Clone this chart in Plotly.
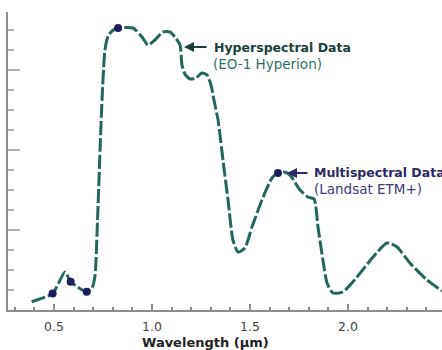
import plotly.graph_objects as go

# Reflectance curve (wavelength in micrometres, relative reflectance in minor-tick units)
wavelength = [0.386, 0.493, 0.556, 0.585, 0.667, 0.694, 0.709, 0.722, 0.735, 0.745,
              0.760, 0.776, 0.796, 0.827, 0.903, 0.949, 0.980, 1.015, 1.056, 1.092,
              1.117, 1.143, 1.153, 1.168, 1.194, 1.224, 1.255, 1.281, 1.301, 1.316,
              1.337, 1.362, 1.388, 1.413, 1.439, 1.474, 1.510, 1.561, 1.612, 1.643,
              1.673, 1.704, 1.755, 1.796, 1.827, 1.847, 1.872, 1.893, 1.923, 1.974,
              2.046, 2.128, 2.199, 2.250, 2.316, 2.403, 2.480]
reflectance = [0.41, 0.83, 1.90, 1.41, 0.91, 1.10, 1.70, 4.50, 8.00, 10.50,
               13.00, 13.70, 13.95, 14.10, 14.10, 13.65, 13.25, 13.50, 13.90, 13.90,
               13.65, 13.25, 12.25, 11.80, 11.55, 11.60, 11.85, 11.75, 11.25, 10.50,
               9.50, 7.50, 5.50, 3.50, 2.90, 3.10, 4.15, 5.50, 6.60, 6.85,
               6.90, 6.75, 6.00, 5.65, 5.55, 4.15, 2.50, 1.35, 0.85, 0.90,
               1.65, 2.65, 3.35, 3.15, 2.35, 1.50, 0.95]

# Sample points marked on the curve
band_wavelength = [0.493, 0.585, 0.667, 0.827, 1.643]
band_value = [0.83, 1.41, 0.91, 14.10, 6.85]

x_tick_values = [0.5, 1.0, 1.5, 2.0]
x_tick_labels = ["0.5", "1.0", "1.5", "2.0"]

LINE = "#24655c"
MARK = "#1d1d5a"
AXIS = "#8c8c8c"

fig = go.Figure()
fig.add_trace(go.Scatter(
    x=wavelength, y=reflectance, mode="lines",
    line=dict(color=LINE, width=3, dash="14px,3px", shape="spline", smoothing=0.6),
    hoverinfo="skip", showlegend=False))
fig.add_trace(go.Scatter(
    x=band_wavelength, y=band_value, mode="markers",
    marker=dict(color=MARK, size=8),
    hoverinfo="skip", showlegend=False))

def X(px):
    return 0.5 + (px - 54) / 196.0

def Y(py):
    return (310 - py) / 20.0

font = "DejaVu Sans"
ann = [
    dict(x=X(212), y=Y(47), text="<b>Hyperspectral Data</b>", xanchor="left", yanchor="middle",
         showarrow=False, font=dict(family=font, size=12.5, color="#1b403c")),
    dict(x=X(211), y=Y(64), text="(EO-1 Hyperion)", xanchor="left", yanchor="middle",
         showarrow=False, font=dict(family=font, size=13.5, color="#2f6f68")),
    dict(x=X(184), y=Y(47), ax=X(208), ay=Y(47), axref="x", ayref="y", text="",
         showarrow=True, arrowhead=2, arrowsize=1, arrowwidth=2, arrowcolor="#1b403c"),
    dict(x=X(312), y=Y(172), text="<b>Multispectral Data</b>", xanchor="left", yanchor="middle",
         showarrow=False, font=dict(family=font, size=12.5, color="#2b2963")),
    dict(x=X(312), y=Y(189), text="(Landsat ETM+)", xanchor="left", yanchor="middle",
         showarrow=False, font=dict(family=font, size=13.5, color="#3b3a7c")),
    dict(x=X(287), y=Y(173), ax=X(309), ay=Y(173), axref="x", ayref="y", text="",
         showarrow=True, arrowhead=2, arrowsize=1, arrowwidth=2, arrowcolor="#2b2963"),
    dict(x=(205 - 8) / 434.0, y=-(343 - 310) / 298.0, xref="paper", yref="paper",
         text="<b>Wavelength (µm)</b>", showarrow=False, xanchor="center", yanchor="middle",
         font=dict(family=font, size=13, color="#222222")),
]

fig.update_layout(
    width=442, height=350,
    margin=dict(l=8, r=0, t=12, b=40),
    paper_bgcolor="white", plot_bgcolor="white",
    annotations=ann,
    xaxis=dict(range=[X(8), X(442)], tickvals=x_tick_values, ticktext=x_tick_labels,
               ticks="inside", ticklen=6, tickwidth=1.5, tickcolor=AXIS,
               minor=dict(dtick=0.1, tick0=0, ticks="inside", ticklen=3, tickcolor=AXIS, tickwidth=1.5),
               showline=True, linecolor=AXIS, linewidth=2, showgrid=False, zeroline=False,
               ticklabelstandoff=4,
               tickfont=dict(family=font, size=12.5, color="#444444")),
    yaxis=dict(range=[0, Y(12)], dtick=4, tick0=0, showticklabels=False,
               ticks="inside", ticklen=12, tickwidth=2, tickcolor="#b0b0b0",
               minor=dict(dtick=1, tick0=0, ticks="inside", ticklen=6, tickcolor="#b0b0b0", tickwidth=2),
               showline=True, linecolor=AXIS, linewidth=2, showgrid=False, zeroline=False),
)

fig.write_html("out.html", config={"displayModeBar": False},
               post_script="document.body.style.margin='0px';")
